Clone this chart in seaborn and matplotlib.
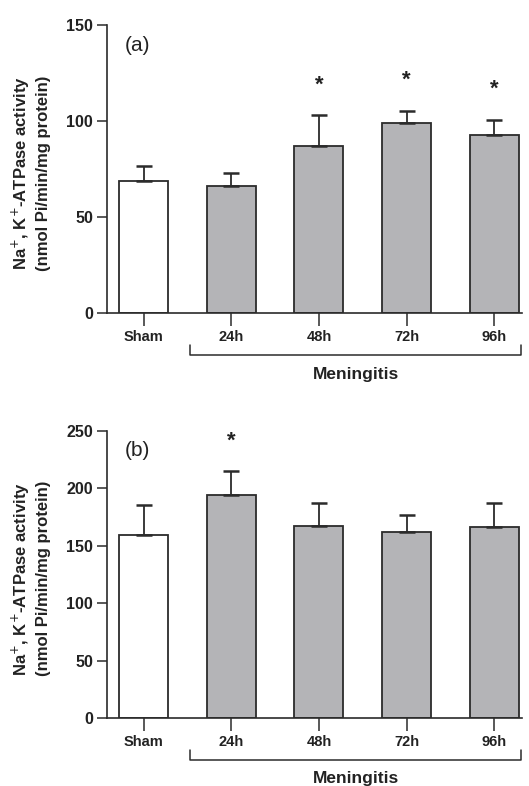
import numpy as np
import pandas as pd
import matplotlib
matplotlib.use("Agg")
import matplotlib.pyplot as plt
import matplotlib.transforms as mtransforms
import seaborn as sns

# Data
groups = ["Sham", "24h", "48h", "72h", "96h"]

mean_a = [68.5, 65.9, 87.0, 99.2, 92.6]
sem_a = [7.8, 6.8, 16.2, 6.2, 8.1]
sig_a = [False, False, True, True, True]

mean_b = [158.9, 193.7, 167.3, 161.5, 165.9]
sem_b = [26.4, 21.2, 20.1, 15.4, 21.5]
sig_b = [False, True, False, False, False]

sns.set_style("ticks")
plt.rcParams['font.family'] = ['Liberation Sans', 'DejaVu Sans']

bar_gray = "#b3b4b8"
edge = "#2b2b2b"
palette = {"Sham": "white", "24h": bar_gray, "48h": bar_gray, "72h": bar_gray, "96h": bar_gray}

fig = plt.figure(figsize=(5.29, 7.86), dpi=100)
ax_a = fig.add_axes([0.2023, 0.6018, 0.7847, 0.3664])
ax_b = fig.add_axes([0.2023, 0.0865, 0.7847, 0.3655])


def draw_panel(ax, means, sems, sig, ymax, ystep, letter):
    df = pd.DataFrame({"group": groups, "value": means})
    sns.barplot(data=df, x="group", y="value", hue="group", palette=palette,
                order=groups, width=0.56, edgecolor=edge, linewidth=1.3,
                legend=False, ax=ax)
    xs = np.arange(len(groups))
    ax.errorbar(xs, means, yerr=[np.zeros(len(means)), sems], fmt="none",
                ecolor=edge, elinewidth=1.3, capsize=6, capthick=1.8, zorder=1)
    for x, m, s, flag in zip(xs, means, sems, sig):
        if flag:
            ax.annotate("*", xy=(x, m + s), xytext=(0, 14), textcoords="offset points",
                        ha="center", va="bottom", fontsize=16, fontweight="bold",
                        color="#222222")
    ax.set_xlim(-0.42, 4.32)
    ax.set_ylim(0, ymax)
    ax.set_yticks(np.arange(0, ymax + 1, ystep))
    ax.set_xlabel("")
    ax.set_ylabel("Na$^{+}$, K$^{+}$-ATPase activity\n(nmol Pi/min/mg protein)",
                  fontsize=12, fontweight="bold", linespacing=1.3, color="#222222")
    ax.yaxis.set_label_coords(-0.135, 0.485)
    sns.despine(ax=ax)
    for sp in ["left", "bottom"]:
        ax.spines[sp].set_linewidth(1.2)
        ax.spines[sp].set_color(edge)
    ax.tick_params(axis="y", length=7, width=1.1, color=edge, labelsize=11.5, pad=3)
    ax.tick_params(axis="x", length=9, width=1.1, color=edge, labelsize=10.5, pad=3)
    for lab in ax.get_xticklabels() + ax.get_yticklabels():
        lab.set_fontweight("bold")
        lab.set_color("#222222")
    ax.text(0.043, 0.93, letter, transform=ax.transAxes, fontsize=15,
            ha="left", va="center", color="#222222")
    # bracket under the meningitis groups
    trans = mtransforms.blended_transform_factory(ax.transData, ax.transAxes)
    ax.plot([0.53, 0.53, 4.31, 4.31], [-0.111, -0.146, -0.146, -0.111],
            transform=trans, color=edge, lw=1.1, clip_on=False)
    ax.text(2.42, -0.212, "Meningitis", transform=trans, ha="center", va="center",
            fontsize=12.5, fontweight="bold", color="#222222")


draw_panel(ax_a, mean_a, sem_a, sig_a, 150, 50, "(a)")
draw_panel(ax_b, mean_b, sem_b, sig_b, 250, 50, "(b)")

fig.savefig("out.png", dpi=100)
